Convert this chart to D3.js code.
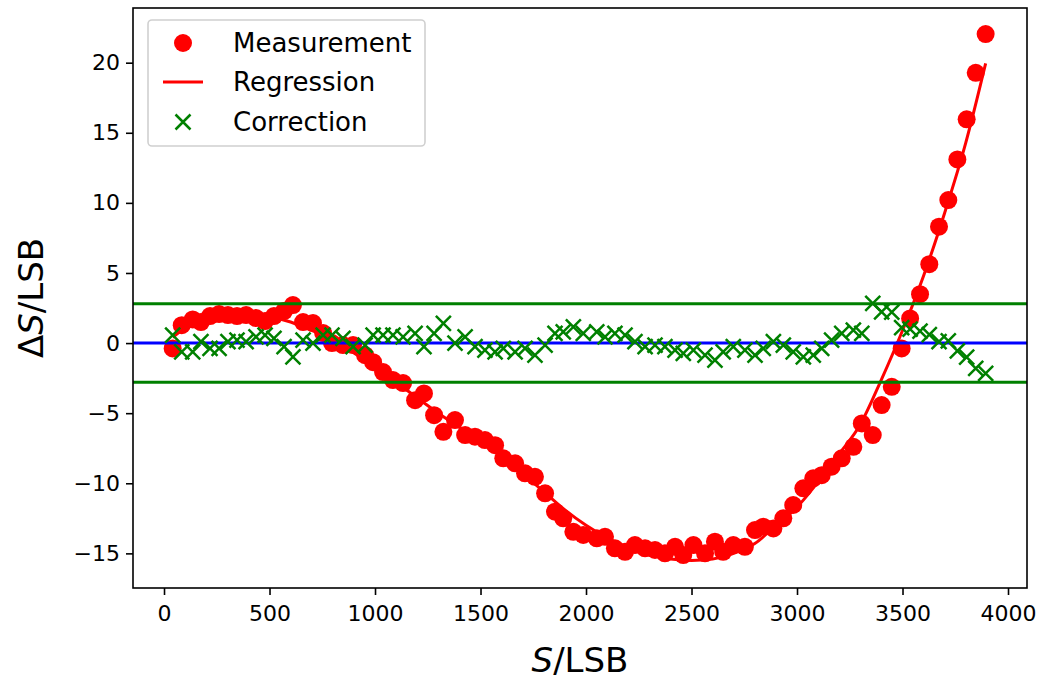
<!DOCTYPE html>
<html lang="en">
<head>
    <meta charset="UTF-8">
    <title>Measurement / Regression / Correction</title>
    <style>
        body { margin: 0; background: #fff; }
        text { font-family: "DejaVu Sans", sans-serif; fill: #000; }
    </style>
</head>
<body>
<script src="https://d3js.org/d3.v7.min.js"></script>
<script>
    // S positions of the measurements (LSB)
    var sValues = [41, 84, 136, 175, 218, 261, 303, 346, 389, 436,
        479, 521, 569, 611, 659, 706, 754, 796, 848, 896,
        953, 991, 1038, 1085, 1133, 1190, 1232, 1280, 1324, 1379,
        1427, 1474, 1521, 1569, 1608, 1664, 1711, 1758, 1806, 1853,
        1892, 1940, 1987, 2051, 2090, 2137, 2185, 2232, 2280, 2327,
        2374, 2422, 2461, 2509, 2564, 2611, 2650, 2698, 2753, 2801,
        2840, 2888, 2935, 2982, 3030, 3077, 3117, 3164, 3212, 3267,
        3307, 3359, 3401, 3449, 3496, 3536, 3583, 3627, 3673, 3717,
        3760, 3804, 3847, 3894];
    var measured = [-0.38, 1.28, 1.69, 1.5, 1.93, 2.07, 2.0, 1.93, 2.0, 1.78,
        1.57, 1.93, 2.28, 2.71, 1.5, 1.43, 0.71, 0.0, -0.14, -0.14,
        -0.86, -1.36, -2.07, -2.64, -2.85, -4.07, -3.59, -5.14, -6.33, -5.49,
        -6.56, -6.68, -6.92, -7.28, -8.22, -8.58, -9.29, -9.54, -10.72, -12.03,
        -12.5, -13.46, -13.69, -13.93, -13.82, -14.64, -14.89, -14.41, -14.64, -14.76,
        -15.0, -14.53, -15.12, -14.41, -15.0, -14.17, -14.89, -14.41, -14.53, -13.34,
        -13.1, -13.22, -12.5, -11.55, -10.36, -9.65, -9.42, -8.82, -8.22, -7.4,
        -5.73, -6.56, -4.42, -3.12, -0.38, 1.76, 3.49, 5.63, 8.3, 10.2,
        13.1, 15.96, 19.28, 22.04];
    var correction = [0.57, -0.62, -0.62, 0.1, -0.38, -0.38, 0.1, 0.21, 0.1, 0.45,
        0.57, 0.33, -0.26, -0.98, 0.21, 0.0, 0.57, 0.57, 0.33, -0.26,
        -0.14, 0.57, 0.57, 0.57, 0.45, 0.69, -0.26, 0.69, 1.4, 0.0,
        0.45, -0.26, -0.5, -0.62, -0.38, -0.62, -0.38, -0.86, -0.14, 0.69,
        0.8, 1.16, 0.69, 0.8, 0.45, 0.69, 0.57, 0.1, -0.26, -0.14,
        -0.26, -0.5, -0.74, -0.5, -0.86, -1.21, -0.62, -0.26, -0.5, -0.86,
        -0.38, 0.1, -0.14, -0.62, -0.98, -0.86, -0.38, 0.21, 0.69, 0.93,
        0.69, 2.83, 2.23, 2.2, 1.1, 1.0, 0.85, 0.6, 0.1, 0.15,
        -0.55, -1.0, -1.8, -2.16];

    // regression curve
    var regS = [41, 100, 200, 300, 400, 500, 600, 700, 800, 900,
        1000, 1100, 1200, 1300, 1400, 1500, 1600, 1700, 1800, 1900,
        2000, 2100, 2200, 2300, 2400, 2500, 2600, 2700, 2800, 2900,
        3000, 3100, 3200, 3300, 3400, 3500, 3600, 3700, 3800, 3894];
    var regValues = [0.4, 1.1, 1.8, 2.1, 2.1, 1.9, 1.5, 0.9, 0.2, -0.7,
        -1.7, -2.8, -3.9, -5.0, -6.0, -7.0, -8.1, -9.3, -10.6, -11.9,
        -13.0, -13.9, -14.6, -15.1, -15.4, -15.5, -15.4, -15.0, -14.3, -13.0,
        -11.7, -9.9, -7.9, -5.8, -2.6, 0.9, 4.8, 9.3, 14.3, 19.95];

    var limit = 2.8;
    var xTicks = [0, 500, 1000, 1500, 2000, 2500, 3000, 3500, 4000];
    var yTicks = [-15, -10, -5, 0, 5, 10, 15, 20];
    var legendLabels = ["Measurement", "Regression", "Correction"];

    var width = 1047,
        height = 679;
    var plot = {left: 133, right: 1027, top: 8, bottom: 588};

    var x = d3.scaleLinear()
        .domain([-147, 4090])
        .range([plot.left, plot.right]);
    var y = d3.scaleLinear()
        .domain([-17.47, 23.9])
        .range([plot.bottom, plot.top]);

    var svg = d3.select("body")
        .append("svg")
        .attr("width", width)
        .attr("height", height);

    svg.append("clipPath").attr("id", "clip")
        .append("rect")
        .attr("x", plot.left).attr("y", plot.top)
        .attr("width", plot.right - plot.left)
        .attr("height", plot.bottom - plot.top);

    var g = svg.append("g").attr("clip-path", "url(#clip)");

    // measurement dots
    g.selectAll("circle.meas")
        .data(sValues)
        .enter()
        .append("circle")
        .attr("class", "meas")
        .attr("cx", function (d) { return x(d); })
        .attr("cy", function (d, i) { return y(measured[i]); })
        .attr("r", 9)
        .attr("fill", "#ff0000");

    // regression line
    var line = d3.line()
        .x(function (d) { return x(d); })
        .y(function (d, i) { return y(regValues[i]); })
        .curve(d3.curveMonotoneX);
    g.append("path")
        .attr("d", line(regS))
        .attr("fill", "none")
        .attr("stroke", "#ff0000")
        .attr("stroke-width", 3);

    // reference lines
    [limit, -limit].forEach(function (v) {
        g.append("line")
            .attr("x1", plot.left).attr("x2", plot.right)
            .attr("y1", y(v)).attr("y2", y(v))
            .attr("stroke", "#008000")
            .attr("stroke-width", 3);
    });
    g.append("line")
        .attr("x1", plot.left).attr("x2", plot.right)
        .attr("y1", y(0)).attr("y2", y(0))
        .attr("stroke", "#0000ff")
        .attr("stroke-width", 3);

    // correction crosses
    var cs = 7.5;
    function crossPath(cx, cy) {
        return "M" + (cx - cs) + "," + (cy - cs) + "L" + (cx + cs) + "," + (cy + cs) +
            "M" + (cx - cs) + "," + (cy + cs) + "L" + (cx + cs) + "," + (cy - cs);
    }
    g.selectAll("path.corr")
        .data(sValues)
        .enter()
        .append("path")
        .attr("class", "corr")
        .attr("d", function (d, i) { return crossPath(x(d), y(correction[i])); })
        .attr("stroke", "#008000")
        .attr("stroke-width", 2.5)
        .attr("fill", "none");

    // axes
    var xAxis = d3.axisBottom(x).tickValues(xTicks).tickSize(7).tickPadding(6)
        .tickFormat(d3.format("d"));
    var yAxis = d3.axisLeft(y).tickValues(yTicks).tickSize(7).tickPadding(6)
        .tickFormat(function (d) { return d < 0 ? "\u2212" + Math.abs(d) : d; });

    var gx = svg.append("g")
        .attr("transform", "translate(0," + plot.bottom + ")")
        .call(xAxis);
    var gy = svg.append("g")
        .attr("transform", "translate(" + plot.left + ",0)")
        .call(yAxis);
    [gx, gy].forEach(function (a) {
        a.select(".domain").remove();
        a.selectAll(".tick line").attr("stroke", "#000").attr("stroke-width", 1.6);
        a.selectAll(".tick text")
            .attr("font-family", "DejaVu Sans")
            .attr("font-size", 22)
            .attr("fill", "#000");
    });
    gx.selectAll(".tick text").attr("dy", "0.9em");

    svg.append("rect")
        .attr("x", plot.left).attr("y", plot.top)
        .attr("width", plot.right - plot.left)
        .attr("height", plot.bottom - plot.top)
        .attr("fill", "none")
        .attr("stroke", "#000")
        .attr("stroke-width", 1.6);

    // axis labels
    var xl = svg.append("text")
        .attr("x", (plot.left + plot.right) / 2)
        .attr("y", 672)
        .attr("text-anchor", "middle")
        .attr("font-size", 34);
    xl.append("tspan").attr("font-style", "italic").text("S");
    xl.append("tspan").text("/LSB");

    var yl = svg.append("text")
        .attr("transform", "translate(43," + ((plot.top + plot.bottom) / 2) + ") rotate(-90)")
        .attr("text-anchor", "middle")
        .attr("font-size", 34);
    yl.append("tspan").text("\u0394");
    yl.append("tspan").attr("font-style", "italic").text("S");
    yl.append("tspan").text("/LSB");

    // legend
    var lg = svg.append("g");
    lg.append("rect")
        .attr("x", 148).attr("y", 20)
        .attr("width", 277).attr("height", 126)
        .attr("rx", 4)
        .attr("fill", "#fff")
        .attr("fill-opacity", 0.8)
        .attr("stroke", "#d0d0d0")
        .attr("stroke-width", 1.6);
    var rowY = [43, 82, 122];
    lg.append("circle").attr("cx", 183).attr("cy", rowY[0]).attr("r", 9).attr("fill", "#ff0000");
    lg.append("line").attr("x1", 163).attr("x2", 203)
        .attr("y1", rowY[1]).attr("y2", rowY[1])
        .attr("stroke", "#ff0000").attr("stroke-width", 3);
    lg.append("path").attr("d", crossPath(183, rowY[2]))
        .attr("stroke", "#008000").attr("stroke-width", 2.5);
    lg.selectAll("text.lab")
        .data(legendLabels)
        .enter()
        .append("text")
        .attr("class", "lab")
        .attr("x", 233)
        .attr("y", function (d, i) { return rowY[i]; })
        .attr("dy", "0.35em")
        .attr("font-size", 26)
        .text(function (d) { return d; });
</script>
</body>
</html>
